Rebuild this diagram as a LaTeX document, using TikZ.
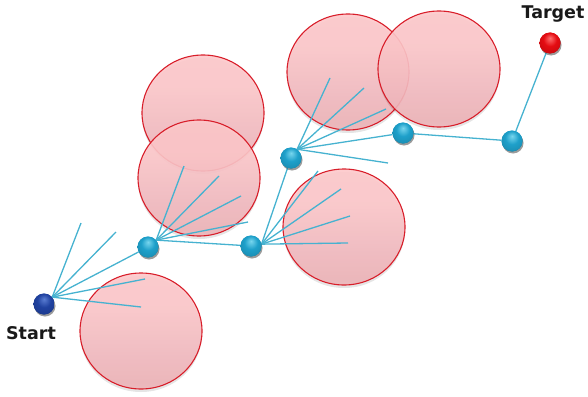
\documentclass[tikz,border=0pt]{standalone}
\usepackage{fontspec}
\setmainfont{DejaVu Sans}
\usetikzlibrary{shadows}
\definecolor{obsline}{RGB}{216,30,42}
\definecolor{raycol}{RGB}{70,178,208}
\definecolor{cyanhi}{RGB}{120,214,238}
\definecolor{cyanmid}{RGB}{30,160,202}
\definecolor{cyanlo}{RGB}{10,100,140}
\definecolor{bluehi}{RGB}{90,125,210}
\definecolor{bluemid}{RGB}{32,66,160}
\definecolor{bluelo}{RGB}{14,32,96}
\definecolor{redhi}{RGB}{255,110,110}
\definecolor{redmid}{RGB}{228,12,18}
\definecolor{redlo}{RGB}{140,0,0}
% glossy pink fill for the obstacles: even top, darker band, pale rim at the bottom
\pgfdeclareverticalshading{obsfill}{100bp}{%
  rgb(0bp)=(0.95,0.88,0.89); rgb(10bp)=(0.94,0.80,0.81); rgb(28bp)=(0.93,0.70,0.72);
  rgb(45bp)=(0.96,0.74,0.76); rgb(60bp)=(0.99,0.78,0.79); rgb(100bp)=(1,0.79,0.80)}
% glossy sphere shadings, lit from above
\pgfdeclareradialshading{glasscyan}{\pgfpoint{0bp}{12bp}}{color(0bp)=(cyanhi); color(16bp)=(cyanmid); color(36bp)=(cyanmid!85!black); color(50bp)=(cyanlo)}
\pgfdeclareradialshading{glassblue}{\pgfpoint{0bp}{12bp}}{color(0bp)=(bluehi); color(16bp)=(bluemid); color(36bp)=(bluemid!85!black); color(50bp)=(bluelo)}
\pgfdeclareradialshading{glassred}{\pgfpoint{0bp}{12bp}}{color(0bp)=(redhi); color(16bp)=(redmid); color(36bp)=(redmid!85!black); color(50bp)=(redlo)}
\tikzset{
  obstacle/.style={draw=obsline, line width=1.1pt, shading=obsfill,
    fill opacity=0.9,
    drop shadow={shadow xshift=0pt, shadow yshift=-3pt, opacity=0.10, fill=black}},
  waypoint/.style={circle, inner sep=0pt, minimum size=21pt, shading=glasscyan,
    drop shadow={shadow xshift=1pt, shadow yshift=-2pt, opacity=0.22, fill=black}},
  startpt/.style={waypoint, shading=glassblue},
  goalpt/.style={waypoint, shading=glassred},
  ray/.style={draw=raycol, line width=1.3pt},
  tag/.style={font=\bfseries\fontsize{17.5}{20}\selectfont, text=black!90, inner sep=0pt}
}
\begin{document}
\begin{tikzpicture}[x=1pt, y=-1pt]
\useasboundingbox (0,0) rectangle (588,396);

% obstacles
\path[obstacle] (141,331) ellipse [x radius=61pt, y radius=58pt];
\path[obstacle] (203,113) ellipse [x radius=61pt, y radius=58pt];
\path[obstacle] (199,178) ellipse [x radius=61pt, y radius=58pt];
\path[obstacle] (348,72)  ellipse [x radius=61pt, y radius=58pt];
\path[obstacle] (439,69)  ellipse [x radius=61pt, y radius=58pt];
\path[obstacle] (344,227) ellipse [x radius=61pt, y radius=58pt];

% tree vertices
\node[startpt] (s)  at (44,304) {};
\node[waypoint] (n1) at (148,247) {};
\node[waypoint] (n2) at (251,246) {};
\node[waypoint] (n3) at (291,158) {};
\node[waypoint] (n4) at (403,133) {};
\node[waypoint] (n5) at (512,141) {};
\node[goalpt] (t)  at (550,43) {};

% ends of the sampled branches
\coordinate (s1) at (81,223);
\coordinate (s2) at (116,232);
\coordinate (s3) at (145,279);
\coordinate (s4) at (141,307);
\coordinate (a1) at (184,166);
\coordinate (a2) at (219,176);
\coordinate (a3) at (241,196);
\coordinate (a4) at (248,222);
\coordinate (b1) at (318,171);
\coordinate (b2) at (341,189);
\coordinate (b3) at (350,216);
\coordinate (b4) at (348,243);
\coordinate (c1) at (330,78);
\coordinate (c2) at (364,88);
\coordinate (c3) at (386,109);
\coordinate (c4) at (388,163);

% branches
\foreach \e in {s1,s2,s3,s4} \draw[ray] (s.40) -- (\e);
\draw[ray] (s.40) -- (n1);
\foreach \e in {a1,a2,a3,a4} \draw[ray] (n1.40) -- (\e);
\draw[ray] (n1.40) -- (n2);
\foreach \e in {b1,b2,b3,b4} \draw[ray] (n2.10) -- (\e);
\draw[ray] (n2.10) -- (n3);
\foreach \e in {c1,c2,c3,c4} \draw[ray] (n3.55) -- (\e);
\draw[ray] (n3.55) -- (n4);
\draw[ray] (n4) -- (n5);
\draw[ray] (n5) -- (t);

% redraw vertices over the branches
\node[startpt] at (s) {};
\node[waypoint] at (n1) {};
\node[waypoint] at (n2) {};
\node[waypoint] at (n3) {};
\node[waypoint] at (n4) {};
\node[waypoint] at (n5) {};
\node[goalpt] at (t) {};

% labels
\node[tag] (startlbl) at (31,333) {Start};
\node[tag] (targetlbl) at (553,14) {Target};
\end{tikzpicture}
\end{document}
